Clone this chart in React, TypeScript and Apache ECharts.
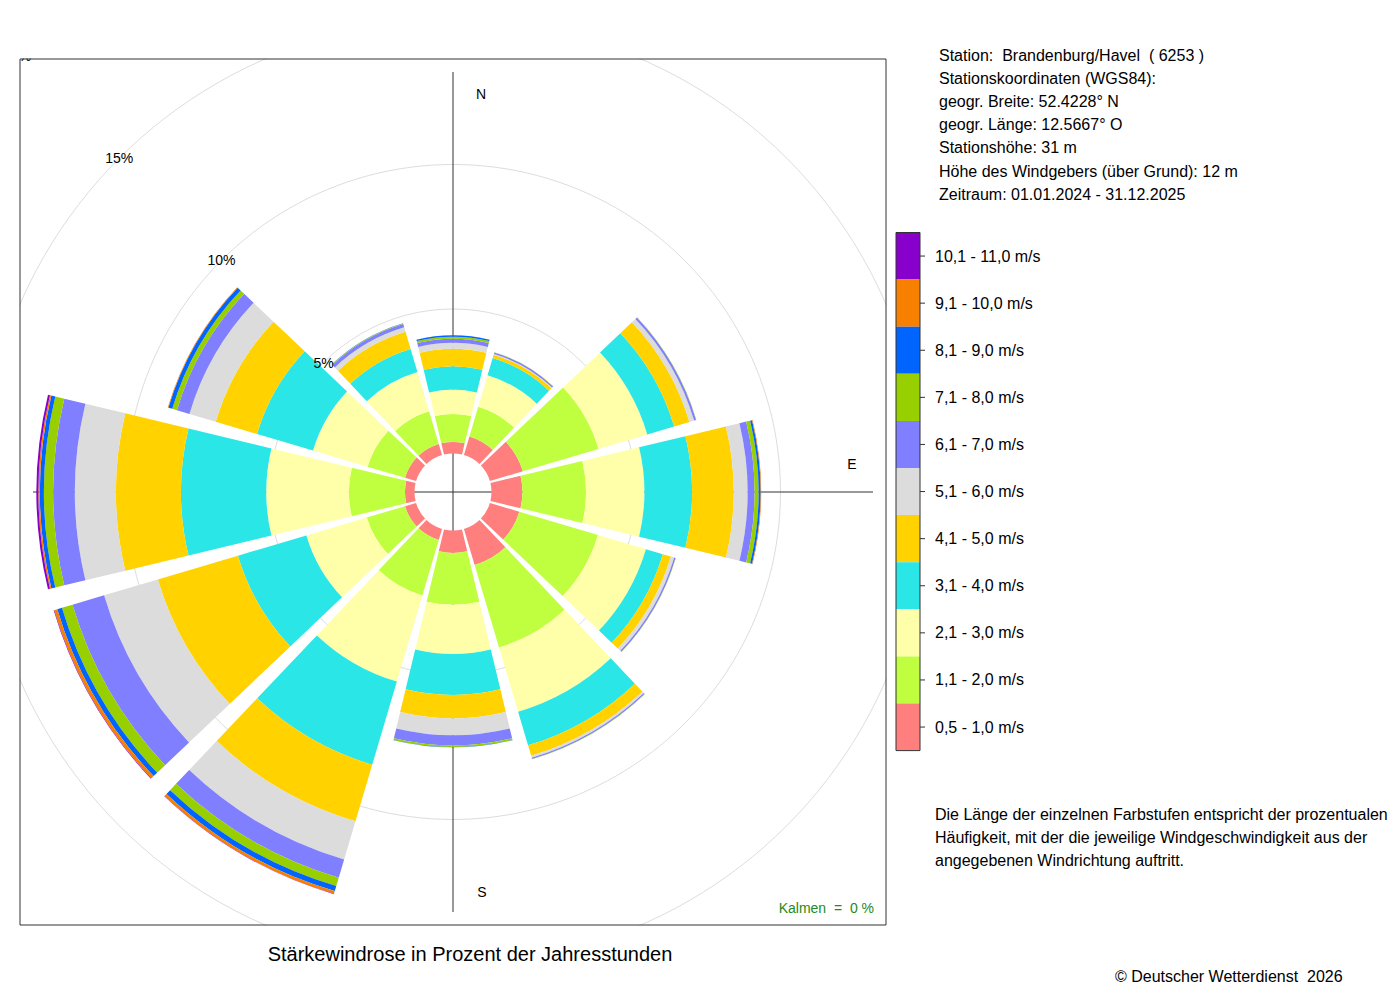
import React, { useEffect, useRef } from "react";
import * as echarts from "echarts";

// ---- data -------------------------------------------------------------
const directions = ["N", "NNE", "ENE", "E", "ESE", "SSE", "S", "SSW", "WSW", "W", "WNW", "NNW"];

const speedClasses = [
  "0,5 - 1,0 m/s",
  "1,1 - 2,0 m/s",
  "2,1 - 3,0 m/s",
  "3,1 - 4,0 m/s",
  "4,1 - 5,0 m/s",
  "5,1 - 6,0 m/s",
  "6,1 - 7,0 m/s",
  "7,1 - 8,0 m/s",
  "8,1 - 9,0 m/s",
  "9,1 - 10,0 m/s",
  "10,1 - 11,0 m/s",
];

const classColors = [
  "#FF7F7F",
  "#BFFF3F",
  "#FFFFAA",
  "#2AE6E6",
  "#FFD200",
  "#DCDCDC",
  "#7F7FFF",
  "#97CF00",
  "#0064FF",
  "#F88000",
  "#8800CC",
];

// percent of annual hours, order N, NNE, ENE, E, ESE, SSE, S, SSW, WSW, W, WNW, NNW
const v05to10 = [0.40, 0.67, 1.19, 1.07, 1.06, 1.30, 0.78, 0.40, 0.40, 0.33, 0.40, 0.40];
const v11to20 = [0.97, 1.07, 2.73, 2.20, 2.84, 2.98, 1.79, 2.00, 1.38, 1.94, 1.35, 1.18];
const v21to30 = [0.84, 1.14, 1.76, 2.02, 1.73, 2.32, 1.70, 3.11, 2.18, 2.86, 1.97, 1.42];
const v31to40 = [0.81, 0.62, 0.97, 1.65, 0.61, 1.21, 1.42, 3.00, 2.47, 2.95, 2.02, 0.83];
const v41to50 = [0.60, 0.12, 0.55, 1.44, 0.29, 0.38, 0.81, 2.04, 2.89, 2.25, 1.49, 0.62];
const v51to60 = [0.21, 0.03, 0.17, 0.48, 0.12, 0.07, 0.58, 1.38, 1.94, 1.42, 0.95, 0.16];
const v61to70 = [0.14, 0.05, 0.07, 0.24, 0.05, 0.04, 0.35, 0.66, 1.14, 0.75, 0.45, 0.12];
const v71to80 = [0.07, 0.01, 0.01, 0.14, 0.01, 0.01, 0.06, 0.30, 0.38, 0.32, 0.17, 0.02];
const v81to90 = [0.05, 0.00, 0.00, 0.07, 0.00, 0.00, 0.01, 0.18, 0.17, 0.14, 0.14, 0.01];
const v91to100 = [0.00, 0.00, 0.00, 0.02, 0.00, 0.00, 0.00, 0.10, 0.11, 0.05, 0.02, 0.00];
const v101to110 = [0.00, 0.00, 0.00, 0.00, 0.00, 0.00, 0.00, 0.01, 0.02, 0.07, 0.00, 0.00];

const seriesValues = [
  v05to10, v11to20, v21to30, v31to40, v41to50, v51to60,
  v61to70, v71to80, v81to90, v91to100, v101to110,
];

const ringMax = 20;
const ringStep = 5;

const stationLines = [
  "Station:  Brandenburg/Havel  ( 6253 )",
  "Stationskoordinaten (WGS84):",
  "geogr. Breite: 52.4228° N",
  "geogr. Länge: 12.5667° O",
  "Stationshöhe: 31 m",
  "Höhe des Windgebers (über Grund): 12 m",
  "Zeitraum: 01.01.2024 - 31.12.2025",
];

const noteLines = [
  "Die Länge der einzelnen Farbstufen entspricht der prozentualen",
  "Häufigkeit, mit der die jeweilige Windgeschwindigkeit aus der",
  "angegebenen Windrichtung auftritt.",
];

const titleText = "Stärkewindrose in Prozent der Jahresstunden";
const calmText = "Kalmen  =  0 %";
const copyrightText = "© Deutscher Wetterdienst  2026";

// ---- layout -----------------------------------------------------------
const FONT = "'Liberation Sans', Arial, Helvetica, sans-serif";
const CX = 453;
const CY = 492;
const R0 = 38.5;
const PX_PER_PCT = 28.9;
const R_OUT = R0 + ringMax * PX_PER_PCT;
const BOX = { x: 20, y: 59, w: 866, h: 866 };
const LEG = { x: 896, y: 232.5, w: 24, itemH: 47.1 };

function txt(text: string, x: number, y: number, size: number, align = "left", color = "#000") {
  return {
    type: "text",
    z: 40,
    silent: true,
    style: {
      text,
      x,
      y,
      fill: color,
      fontSize: size,
      fontFamily: FONT,
      align,
      verticalAlign: "middle",
      textAlign: align,
      textVerticalAlign: "middle",
    },
  };
}

export default function App() {
  const ref = useRef<HTMLDivElement>(null);

  useEffect(() => {
    if (!ref.current) return;
    const chart = echarts.init(ref.current, undefined, { renderer: "svg" });

    const legendH = LEG.itemH * speedClasses.length;
    const graphics: any[] = [];
    // white masks outside the plot box (clip grid circles)
    graphics.push(
      { type: "rect", z: 20, silent: true, shape: { x: 0, y: 0, width: 1400, height: BOX.y - 0.5 }, style: { fill: "#fff" } },
      { type: "rect", z: 20, silent: true, shape: { x: 0, y: BOX.y + BOX.h + 0.5, width: 1400, height: 200 }, style: { fill: "#fff" } },
      { type: "rect", z: 20, silent: true, shape: { x: 0, y: 0, width: BOX.x - 0.5, height: 1000 }, style: { fill: "#fff" } },
      { type: "rect", z: 20, silent: true, shape: { x: BOX.x + BOX.w + 0.5, y: 0, width: 600, height: 1000 }, style: { fill: "#fff" } },
      { type: "rect", z: 25, silent: true, shape: { x: BOX.x, y: BOX.y, width: BOX.w, height: BOX.h }, style: { fill: "none", stroke: "#333", lineWidth: 1 } },
      { type: "rect", z: 35, silent: true, shape: { x: LEG.x, y: LEG.y, width: LEG.w, height: legendH }, style: { fill: "none", stroke: "#333", lineWidth: 1 } }
    );
    for (let i = 0; i < speedClasses.length; i++) {
      const y = LEG.y + LEG.itemH * (i + 0.5);
      graphics.push({
        type: "line",
        z: 35,
        silent: true,
        shape: { x1: LEG.x + LEG.w, y1: y, x2: LEG.x + LEG.w + 5, y2: y },
        style: { stroke: "#333", lineWidth: 1 },
      });
    }
    stationLines.forEach((t, i) => graphics.push(txt(t, 939, 55 + i * 23.2, 16)));
    noteLines.forEach((t, i) => graphics.push(txt(t, 935, 814 + i * 23.2, 16)));
    graphics.push(txt(titleText, 470, 954, 20, "center"));
    graphics.push(txt(copyrightText, 1115, 976, 16));
    graphics.push(txt(calmText, 874, 908, 14, "right", "#228B22"));
    graphics.push(txt("N", 481, 94, 14, "center"));
    graphics.push(txt("E", 852, 464, 14, "center"));
    graphics.push(txt("S", 482, 892, 14, "center"));

    const hidden = {
      axisLine: { show: false },
      axisTick: { show: false },
      axisLabel: { show: false },
      splitLine: { show: false },
      splitArea: { show: false },
    };

    const option: any = {
      animation: false,
      backgroundColor: "#fff",
      textStyle: { fontFamily: FONT },
      polar: [
        { center: [CX, CY], radius: [R0, R_OUT] },
        { center: [CX, CY], radius: [R0, R_OUT] },
        { center: [CX, CY], radius: [R0, R_OUT] },
        { center: [CX, CY], radius: [0, R0 + 13.2 * PX_PER_PCT] },
      ],
      angleAxis: [
        { polarIndex: 0, type: "category", data: directions, startAngle: 105, clockwise: true, boundaryGap: true, ...hidden },
        { polarIndex: 1, type: "value", min: 0, max: 360, startAngle: 135, ...hidden },
        { polarIndex: 2, type: "value", min: 0, max: 360, startAngle: 135, ...hidden },
        {
          polarIndex: 3, type: "value", min: 0, max: 360, interval: 90, startAngle: 90, z: 0,
          axisLine: { show: false }, axisTick: { show: false }, axisLabel: { show: false },
          splitLine: { show: true, lineStyle: { color: "#333", width: 1 } },
        },
      ],
      radiusAxis: [
        { polarIndex: 0, type: "value", min: 0, max: ringMax, ...hidden },
        {
          polarIndex: 1, type: "value", min: 0, max: ringMax, interval: ringStep, z: 0,
          axisLine: { show: false }, axisTick: { show: false }, axisLabel: { show: false },
          splitLine: {
            show: true,
            lineStyle: { color: ["transparent", "#DDDDDD", "#DDDDDD", "#DDDDDD", "#DDDDDD"], width: 1 },
          },
        },
        {
          polarIndex: 2, type: "value", min: 0, max: ringMax, interval: ringStep, z: 10,
          axisLine: { show: false }, axisTick: { show: false }, splitLine: { show: false },
          axisLabel: {
            show: true, margin: 0, align: "center", verticalAlign: "middle",
            fontSize: 14, color: "#000", fontFamily: FONT,
            formatter: (v: number) => (v === 0 ? "" : v + "%"),
          },
        },
        { polarIndex: 3, type: "value", min: 0, max: 1, ...hidden },
      ],
      legend: {
        orient: "vertical",
        left: LEG.x,
        top: LEG.y,
        padding: 0,
        itemWidth: LEG.w,
        itemHeight: LEG.itemH,
        itemGap: 0,
        icon: "rect",
        selectedMode: false,
        z: 30,
        data: [...speedClasses].reverse(),
        textStyle: { fontSize: 16, color: "#000", fontFamily: FONT, padding: [0, 0, 0, 10] },
      },
      series: speedClasses.map((name, i) => ({
        type: "bar",
        name,
        coordinateSystem: "polar",
        polarIndex: 0,
        stack: "wind",
        data: seriesValues[i],
        barCategoryGap: "10%",
        itemStyle: { color: classColors[i] },
        silent: true,
        z: 2,
      })),
      graphic: { elements: graphics },
    };

    chart.setOption(option);
    return () => chart.dispose();
  }, []);

  return (
    <div
      ref={ref}
      style={{ position: "fixed", left: 0, top: 0, width: 1400, height: 1000, background: "#fff" }}
    />
  );
}
